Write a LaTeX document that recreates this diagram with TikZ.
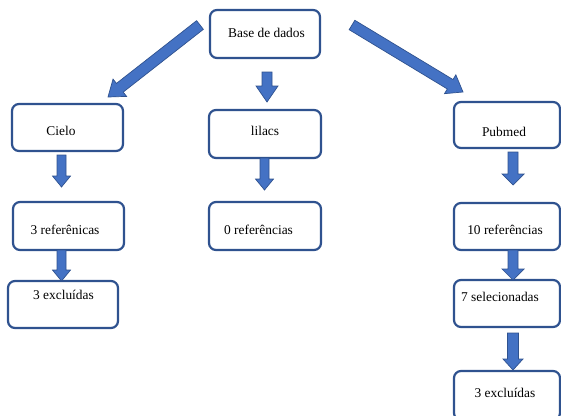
\documentclass[tikz,border=0pt]{standalone}
\usepackage{fontspec}
\setmainfont{Liberation Serif}
\usetikzlibrary{calc}
\definecolor{boxline}{HTML}{2F528F}
\definecolor{arrfill}{HTML}{4472C4}
\tikzset{
  box/.style={draw=boxline, line width=2.2pt, rounded corners=7pt, fill=white, inner sep=0pt},
  txt/.style={anchor=base, inner sep=0pt, font=\fontsize{13.4}{16}\selectfont},
  blockarrow/.style={fill=arrfill, draw=boxline, line width=0.7pt, line join=miter},
}
% #1 start, #2 tip, #3 shaft half width, #4 head half width, #5 head length
\newcommand{\blockarr}[5]{%
  \path (#1) coordinate (ba-s) (#2) coordinate (ba-t) ($(#2)!#5!(#1)$) coordinate (ba-h);
  \filldraw[blockarrow] ($(ba-s)!#3!90:(ba-t)$) -- ($(ba-h)!#3!90:(ba-t)$) -- ($(ba-h)!#4!90:(ba-t)$)
    -- (ba-t) -- ($(ba-h)!#4!-90:(ba-t)$) -- ($(ba-h)!#3!-90:(ba-t)$) -- ($(ba-s)!#3!-90:(ba-t)$) -- cycle;
}
\begin{document}
\begin{tikzpicture}[x=1pt,y=-1pt]
\useasboundingbox (0,0) rectangle (561,415);
\clip (0,0) rectangle (561,415);
% boxes
\node[box, minimum width=110pt, minimum height=48pt] (base) at (265,34) {};
\node[box, minimum width=111pt, minimum height=47pt] (cielo) at (67.5,127.5) {};
\node[box, minimum width=112pt, minimum height=48pt] (lilacs) at (265,134) {};
\node[box, minimum width=111pt, minimum height=48pt] (ref3) at (68.5,226) {};
\node[box, minimum width=112pt, minimum height=48pt] (ref0) at (265,226) {};
\node[box, minimum width=110pt, minimum height=47pt] (exc3l) at (63,304.5) {};
\node[box, minimum width=106pt, minimum height=46pt] (pubmed) at (507,125) {};
\node[box, minimum width=106pt, minimum height=47pt] (ref10) at (507,226.5) {};
\node[box, minimum width=106pt, minimum height=47pt] (sel7) at (507,303.5) {};
\node[box, minimum width=106pt, minimum height=49pt] (exc3r) at (507,395.5) {};
% texts
\node[txt] (base-t) at (266.5,37) {Base de dados};
\node[txt] (cielo-t) at (61,135.5) {Cielo};
\node[txt] (lilacs-t) at (265,135.5) {lilacs};
\node[txt] (ref3-t) at (65,234.5) {3 referênicas};
\node[txt] (ref0-t) at (258.5,234.5) {0 referências};
\node[txt] (exc3l-t) at (63.5,299.5) {3 excluídas};
\node[txt] (pubmed-t) at (504,136.5) {Pubmed};
\node[txt] (ref10-t) at (505,234.5) {10 referências};
\node[txt] (sel7-t) at (500,301.5) {7 selecionadas};
\node[txt] (exc3r-t) at (505,397.5) {3 excluídas};
% arrow end points
\coordinate (a1s) at (200,25);  \coordinate (a1e) at (108,97);
\coordinate (a2s) at (267,72);  \coordinate (a2e) at (267,102);
\coordinate (a3s) at (352,25);  \coordinate (a3e) at (463,92);
\coordinate (a4s) at (61.5,155); \coordinate (a4e) at (61.5,187);
\coordinate (a5s) at (61.5,250); \coordinate (a5e) at (61.5,281);
\coordinate (a6s) at (264.5,158); \coordinate (a6e) at (264.5,190);
\coordinate (a7s) at (513,152); \coordinate (a7e) at (513,185);
\coordinate (a8s) at (513,250); \coordinate (a8e) at (513,280);
\coordinate (a9s) at (513,333); \coordinate (a9e) at (513,370);
% arrows
\blockarr{a1s}{a1e}{5.5pt}{11pt}{15pt}
\blockarr{a2s}{a2e}{5pt}{11pt}{16pt}
\blockarr{a3s}{a3e}{5.5pt}{11pt}{15pt}
\blockarr{a4s}{a4e}{4.5pt}{9pt}{11pt}
\blockarr{a5s}{a5e}{4.5pt}{9pt}{11pt}
\blockarr{a6s}{a6e}{4.5pt}{9pt}{11pt}
\blockarr{a7s}{a7e}{5pt}{11pt}{11pt}
\blockarr{a8s}{a8e}{5pt}{11pt}{11pt}
\blockarr{a9s}{a9e}{5.5pt}{10pt}{11pt}
\end{tikzpicture}
\end{document}
